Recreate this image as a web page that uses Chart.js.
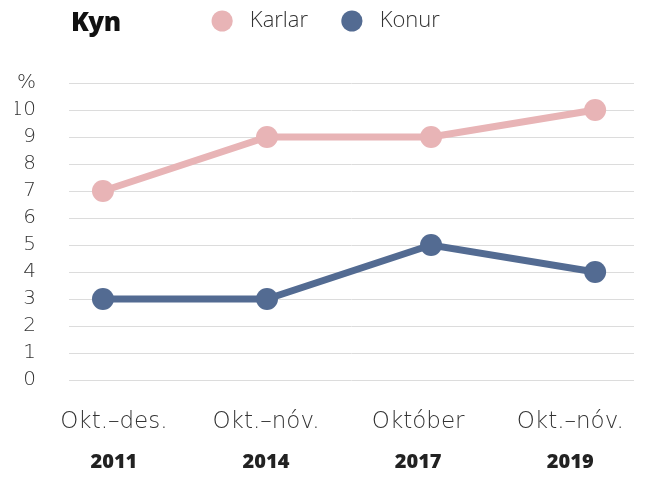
<!DOCTYPE html>
<html>
<head>
<meta charset="utf-8">
<script src="https://cdn.jsdelivr.net/npm/chart.js"></script>
<style>
  html, body { margin: 0; padding: 0; background: #fff; }
  .wrap { position: relative; width: 645px; height: 482px; }
  .title { position: absolute; left: 71px; top: 3px; font: 800 26px 'Open Sans', sans-serif; color: #111; letter-spacing: -0.5px; }
</style>
</head>
<body>
<div class="wrap">
  <div class="title">Kyn</div>
  <canvas id="c" width="645" height="482"></canvas>
</div>
<script>
// periods on the x axis (two lines: period + year)
const periods = ['Okt.\u2013des.', 'Okt.\u2013nóv.', 'Október', 'Okt.\u2013nóv.'];
const years = ['2011', '2014', '2017', '2019'];
const karlar = [7, 9, 9, 10];
const konur = [3, 3, 5, 4];
const yTicks = [0, 1, 2, 3, 4, 5, 6, 7, 8, 9, 10, 11]; // 11 shows as '%'

const PINK = '#e8b4b6';
const BLUE = '#536b92';

// data axis range, and the slightly wider spread used by the labels below it
const xMin = -0.207, xMax = 3.237;
const lblMin = -0.295, lblMax = 3.419;

function toPoints(arr) {
  return arr.map((v, i) => ({ x: i, y: v }));
}

const fixTicks = axis => { axis.ticks = periods.map((_, i) => ({ value: i })); };
const noSidePad = h => s => { s.height = h; s.paddingLeft = 0; s.paddingRight = 0; };

// push chart area down below the legend
const legendGap = {
  id: 'legendGap',
  beforeInit(chart) {
    const fit = chart.legend.fit;
    chart.legend.fit = function () {
      fit.bind(chart.legend)();
      this.height += 41;
    };
  }
};

new Chart(document.getElementById('c'), {
  type: 'line',
  data: {
    datasets: [
      {
        label: 'Karlar',
        data: toPoints(karlar),
        borderColor: PINK,
        backgroundColor: PINK,
        borderWidth: 7,
        pointRadius: 11,
        pointHoverRadius: 11,
        pointBorderWidth: 0,
        tension: 0
      },
      {
        label: 'Konur',
        data: toPoints(konur),
        borderColor: BLUE,
        backgroundColor: BLUE,
        borderWidth: 7,
        pointRadius: 11,
        pointHoverRadius: 11,
        pointBorderWidth: 0,
        tension: 0
      }
    ]
  },
  options: {
    responsive: false,
    animation: false,
    layout: { padding: { top: 0, right: 9, left: 15, bottom: 0 } },
    scales: {
      x: {
        type: 'linear',
        min: xMin,
        max: xMax,
        display: false
      },
      xl: {
        type: 'linear',
        position: 'bottom',
        min: lblMin,
        max: lblMax,
        afterBuildTicks: fixTicks,
        afterFit: noSidePad(60),
        grid: { display: false },
        border: { display: false },
        ticks: {
          autoSkip: false,
          maxRotation: 0,
          padding: 20,
          color: '#333',
          font: { family: "'DejaVu Sans', sans-serif", size: 23, weight: 200 },
          callback: v => periods[v]
        }
      },
      xy: {
        type: 'linear',
        position: 'bottom',
        min: lblMin,
        max: lblMax,
        afterBuildTicks: fixTicks,
        afterFit: noSidePad(42),
        grid: { display: false },
        border: { display: false },
        ticks: {
          autoSkip: false,
          maxRotation: 0,
          padding: 2,
          color: '#222',
          font: { family: "'Open Sans', sans-serif", size: 20, weight: 800 },
          callback: v => years[v]
        }
      },
      y: {
        min: 0,
        max: 11,
        afterBuildTicks: axis => { axis.ticks = yTicks.map(v => ({ value: v })); },
        afterFit: s => { s.width = 54; },
        grid: { color: '#dcdcdc', lineWidth: 1, drawTicks: false },
        border: { display: false },
        ticks: {
          autoSkip: false,
          padding: 33,
          color: '#333',
          font: { family: "'DejaVu Sans', sans-serif", size: 20, weight: 200 },
          callback: v => (v === 11 ? '%' : v)
        }
      }
    },
    plugins: {
      legend: {
        position: 'top',
        align: 'center',
        labels: {
          usePointStyle: true,
          pointStyle: 'circle',
          boxWidth: 22,
          boxHeight: 15,
          padding: 10,
          color: '#333',
          font: { family: "'Open Sans', sans-serif", size: 22, weight: 300 },
          generateLabels: chart =>
            Chart.defaults.plugins.legend.labels.generateLabels(chart)
              .map((l, i) => ({ ...l, text: ' ' + l.text + (i === 0 ? '    ' : '') }))
        }
      },
      tooltip: { enabled: false }
    }
  },
  plugins: [legendGap]
});
</script>
</body>
</html>
